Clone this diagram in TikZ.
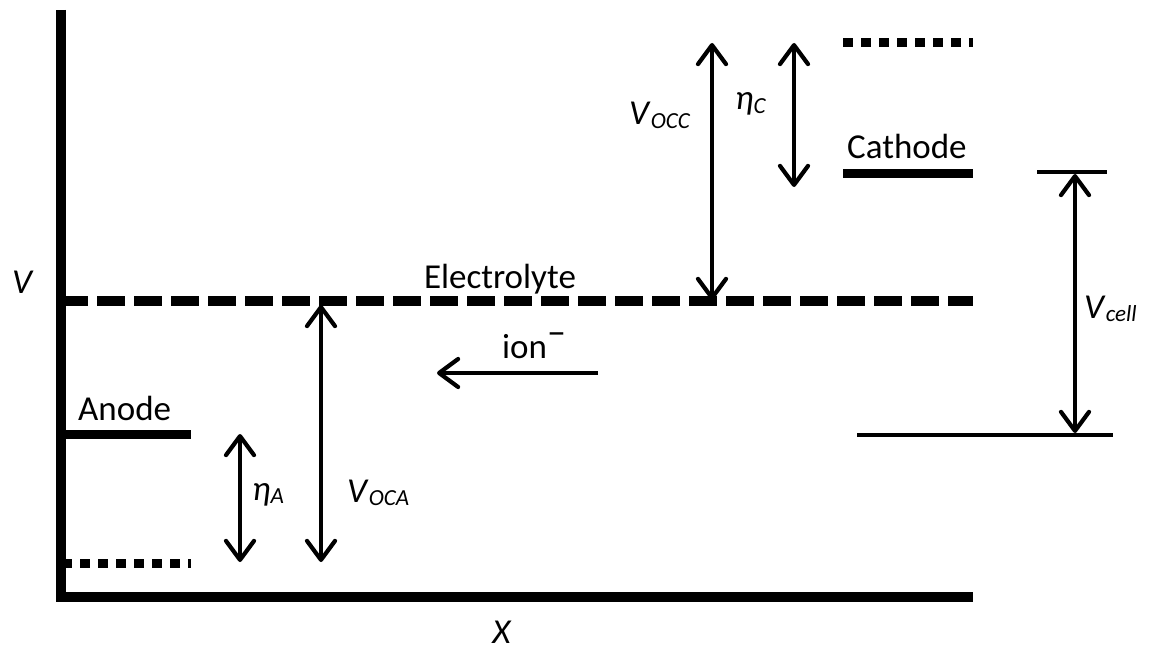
\documentclass[tikz,border=0pt]{standalone}
\usepackage{fontspec}
\setmainfont{Carlito}
\usetikzlibrary{arrows.meta}
\newcommand\lblsub[1]{\raisebox{-0.1em}{\fontsize{23}{23}\selectfont #1}}
\begin{document}
\begin{tikzpicture}[x=1pt,y=-1pt,
  axisline/.style={line width=10pt},
  levelline/.style={line width=9pt},
  dotline/.style={line width=9pt, dash pattern=on 10pt off 8pt},
  dashline/.style={line width=10pt, dash pattern=on 28pt off 9pt},
  thinline/.style={line width=4.5pt},
  dimarrow/.style={line width=4.2pt, {Straight Barb[length=19pt,width=28pt,round]}-{Straight Barb[length=19pt,width=28pt,round]}},
  onearrow/.style={line width=4.2pt, -{Straight Barb[length=19pt,width=28pt,round]}},
  lbl/.style={inner sep=0pt, font=\fontsize{35}{40}\selectfont},
]
\useasboundingbox (0,0) rectangle (1151,650);
% coordinates
\coordinate (axtop) at (61,10);
\coordinate (axcorner) at (61,602);
\coordinate (axorig) at (56,597);
\coordinate (axright) at (973,597);
\coordinate (elL) at (60,301);
\coordinate (elR) at (973,301);
\coordinate (cathL) at (843,173);
\coordinate (cathR) at (973,173);
\coordinate (cathdL) at (843,43);
\coordinate (cathdR) at (973,43);
\coordinate (anL) at (66,434);
\coordinate (anR) at (191,434);
\coordinate (andL) at (62,563);
\coordinate (andR) at (191,563);
\coordinate (topbarL) at (1037,172);
\coordinate (topbarR) at (1107,172);
\coordinate (botbarL) at (857,435);
\coordinate (botbarR) at (1113,435);
\coordinate (voccT) at (712,43);
\coordinate (voccB) at (712,300);
\coordinate (etacT) at (794,43);
\coordinate (etacB) at (794,187);
\coordinate (vocaT) at (321,305);
\coordinate (vocaB) at (321,562);
\coordinate (etaaT) at (240,434);
\coordinate (etaaB) at (240,562);
\coordinate (vcellT) at (1075,174);
\coordinate (vcellB) at (1075,433);
\coordinate (ionS) at (598,373);
\coordinate (ionE) at (437,373);
% axes
\draw[axisline] (axtop) -- (axcorner);
\draw[axisline] (axorig) -- (axright);
% levels
\draw[dashline] (elL) -- (elR);
\draw[levelline] (cathL) -- (cathR);
\draw[dotline] (cathdL) -- (cathdR);
\draw[levelline] (anL) -- (anR);
\draw[dotline] (andL) -- (andR);
\draw[thinline] (topbarL) -- (topbarR);
\draw[thinline] (botbarL) -- (botbarR);
% arrows
\draw[dimarrow] (voccB) -- (voccT);
\draw[dimarrow] (etacT) -- (etacB);
\draw[dimarrow] (vocaT) -- (vocaB);
\draw[dimarrow] (etaaT) -- (etaaB);
\draw[dimarrow] (vcellT) -- (vcellB);
\draw[onearrow] (ionS) -- (ionE);
% labels
\node[lbl, anchor=base west] (lvocc) at (629,125) {\textit{V}\lblsub{\textit{OCC}}};
\node[lbl, anchor=base west] (letac) at (735,110) {\textit{η}\lblsub{\textit{C}}};
\node[lbl, anchor=base west] (lvoca) at (347,502) {\textit{V}\lblsub{\textit{OCA}}};
\node[lbl, anchor=base west] (letaa) at (252,500) {\textit{η}\lblsub{\textit{A}}};
\node[lbl, anchor=base west] (lvcell) at (1084,318) {\textit{V}\lblsub{\textit{cell}}};
\node[lbl, anchor=base] (lelec) at (500,288) {Electrolyte};
\node[lbl, anchor=base west] (lcath) at (847,158) {Cathode};
\node[lbl, anchor=base west] (lan) at (78,420) {Anode};
\node[lbl, anchor=base west] (lion) at (502,358) {ion\raisebox{0.4em}{\fontsize{38}{38}\selectfont –}};
\node[lbl, anchor=base] (lV) at (23,293) {\textit{V}};
\node[lbl, anchor=base] (lX) at (502,643) {\textit{X}};
\end{tikzpicture}
\end{document}
